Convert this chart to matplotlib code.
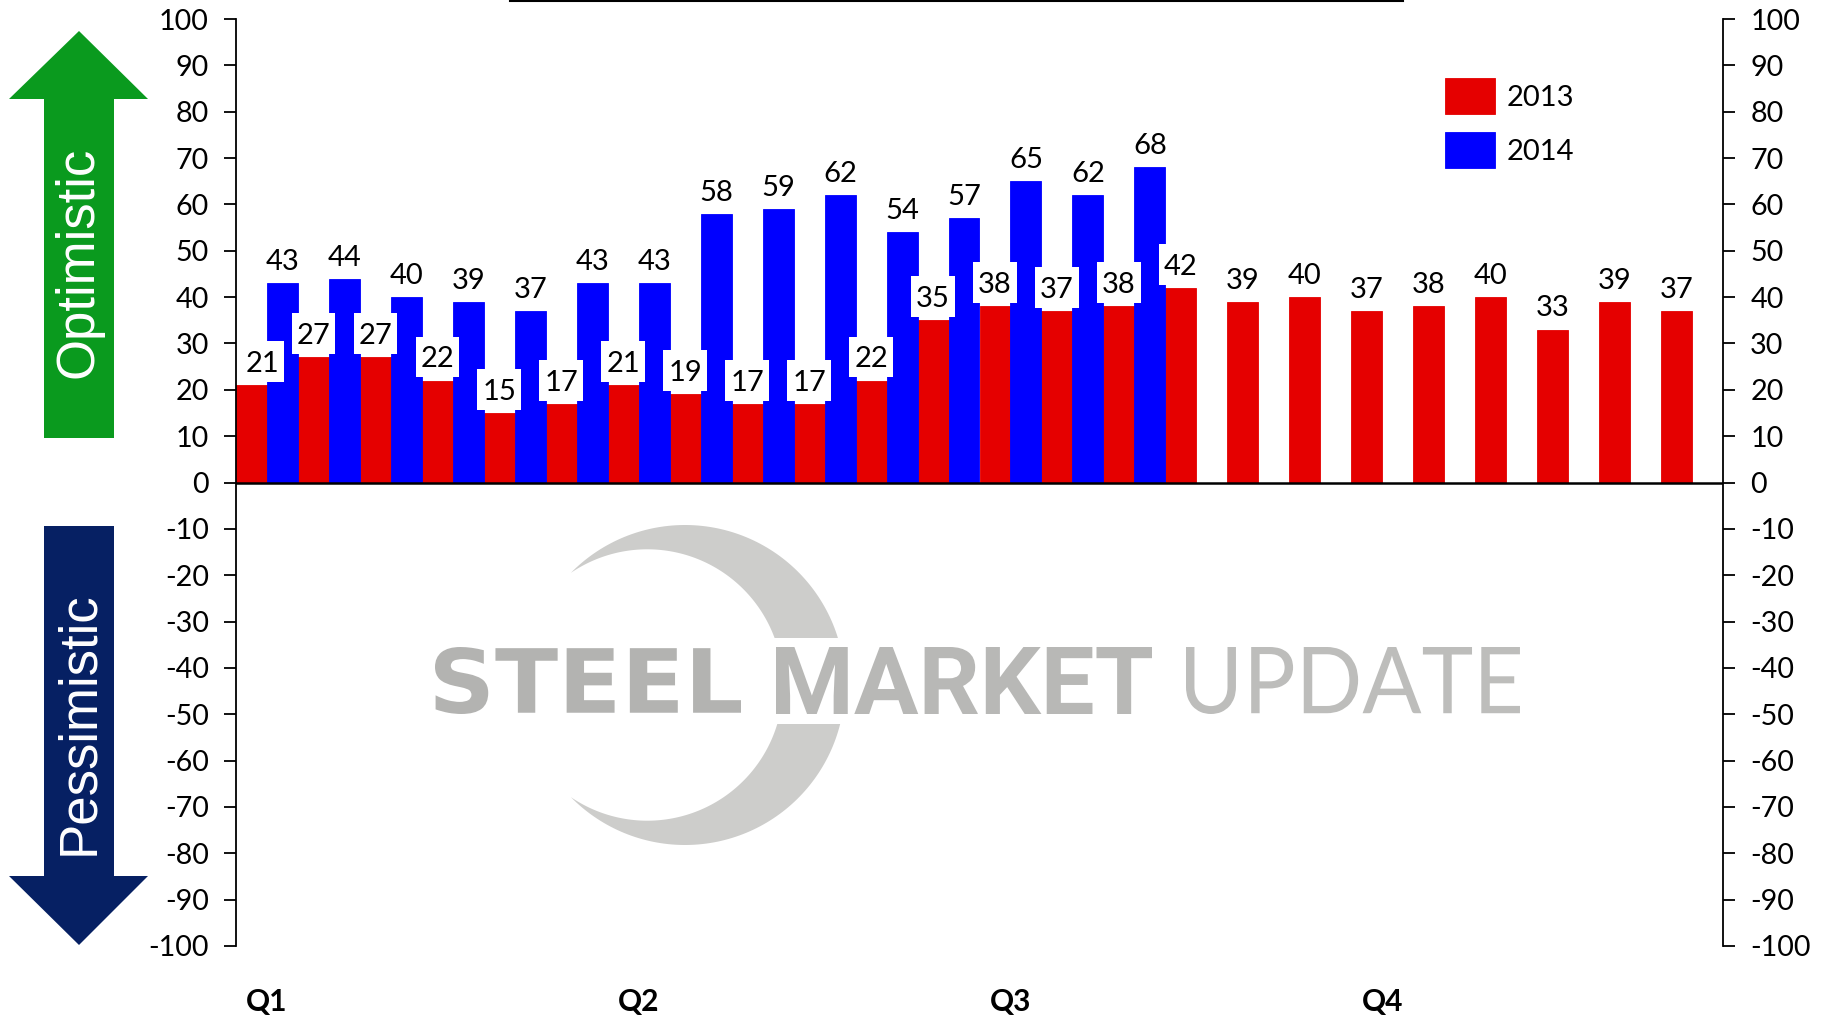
import numpy as np
import matplotlib
matplotlib.use("Agg")
import matplotlib.pyplot as plt
from matplotlib.patches import Polygon, PathPatch, Rectangle
from matplotlib.textpath import TextPath
from matplotlib.font_manager import FontProperties
from matplotlib.transforms import Affine2D
from matplotlib.lines import Line2D
from matplotlib.path import Path

# datos
valores_2013 = [21, 27, 27, 22, 15, 17, 21, 19, 17, 17, 22, 35,
                38, 37, 38, 42, 39, 40, 37, 38, 40, 33, 39, 37]
valores_2014 = [43, 44, 40, 39, 37, 43, 43, 58, 59, 62, 54, 57, 65, 62, 68]
series = ['2013', '2014']
trimestres = ['Q1', 'Q2', 'Q3', 'Q4']
ticks_y = list(range(-100, 101, 10))

ROJO = '#e50000'
AZUL = '#0000ff'
VERDE = '#0a9a1e'
MARINO = '#062063'
GRIS = '#cdcdcb'

plt.rcParams['font.family'] = ['Lato', 'DejaVu Sans']
plt.rcParams['axes.unicode_minus'] = False

W, H = 1829, 1017
fig = plt.figure(figsize=(W / 100, H / 100), dpi=100)
ax = fig.add_axes([236 / W, 1 - 946 / H, (1723 - 236) / W, (946 - 19) / H])

def px(x, y):  # pixeles (origen arriba-izq) -> fraccion de figura
    return (x / W, 1 - y / H)

grupos = np.arange(len(valores_2013))
n14 = len(valores_2014)
barras13 = ax.bar(grupos - 0.25, valores_2013, width=0.5, color=ROJO, ec=ROJO, lw=0.6,
                  label=series[0], zorder=1)
barras14 = ax.bar(grupos[:n14] + 0.25, valores_2014, width=0.5, color=AZUL, ec=AZUL, lw=0.6,
                  label=series[1], zorder=1)

ax.set_xlim(-0.5, len(grupos) - 0.5)
ax.set_ylim(-100, 100)
ax.axhline(0, color='black', lw=1.8, zorder=2)

# caja blanca de las etiquetas (mas alta que ancha, como en Excel)
def caja_etiqueta(x0, y0, width, height, mutation_size):
    ph = 0.17 * mutation_size
    pt = 0.34 * mutation_size
    pb = 0.17 * mutation_size
    xa, xb = x0 - ph, x0 + width + ph
    ya, yb = y0 - pb, y0 + height + pt
    return Path([(xa, ya), (xb, ya), (xb, yb), (xa, yb), (xa, ya)], closed=True)

def etiquetas(xs, vals):
    for x, v in zip(xs, vals):
        x = max(x, -0.5 + 0.42)
        ax.annotate(str(v), (x, v), xytext=(0, 5.8), textcoords='offset points',
                    ha='center', va='bottom', fontsize=21, zorder=4,
                    bbox=dict(boxstyle=caja_etiqueta, fc='white', ec='none'))

etiquetas(grupos - 0.25, valores_2013)
etiquetas(grupos[:n14] + 0.25, valores_2014)

# ejes
ax.set_yticks(ticks_y)
ax.set_yticklabels([str(t) for t in ticks_y])
ax.tick_params(axis='y', which='both', direction='out', length=8.6, width=1.3,
               labelsize=20.7, pad=11, left=True, right=True, labelleft=True, labelright=True)
ax.set_xticks(grupos[::6])
ax.set_xticklabels(trimestres, fontweight='bold')
ax.tick_params(axis='x', length=0, labelsize=21.5, pad=30)
for lado in ['top', 'bottom']:
    ax.spines[lado].set_visible(False)
for lado in ['left', 'right']:
    ax.spines[lado].set_linewidth(1.3)

ax.legend(loc='upper left', bbox_to_anchor=px(1445, 78), bbox_transform=fig.transFigure,
          frameon=False, fontsize=21, borderpad=0, borderaxespad=0,
          handlelength=1.7, handleheight=1.52, labelspacing=0.62, handletextpad=0.4)

# flechas laterales
verde = [px(79, 31), px(148, 99), px(114, 99), px(114, 438), px(44, 438), px(44, 99), px(9, 99)]
marino = [px(44, 526), px(114, 526), px(114, 876), px(148, 876), px(79, 945), px(9, 876), px(44, 876)]
fig.add_artist(Polygon(verde, closed=True, fc=VERDE, ec='none', transform=fig.transFigure))
fig.add_artist(Polygon(marino, closed=True, fc=MARINO, ec='none', transform=fig.transFigure))
fig.text(*px(79, 262), 'Optimistic', rotation=90, ha='center', va='center', color='white',
         fontsize=38, family='Liberation Sans')
fig.text(*px(79, 723), 'Pessimistic', rotation=90, ha='center', va='center', color='white',
         fontsize=38, family='Liberation Sans')

# linea superior
fig.add_artist(Line2D([510 / W, 1403 / W], [1 - 1.0 / H, 1 - 1.0 / H], color='black', lw=1.5,
                      transform=fig.transFigure))

# marca de agua
cx, cy, R = 685, 685, 160
d, r = 37.7, 135.7
xi = (r ** 2 - R ** 2 - d ** 2) / (2 * d)
yi = np.sqrt(R ** 2 - xi ** 2)
a_ext = np.arctan2(yi, xi)
a_int = np.arctan2(yi, xi + d)
t1 = np.linspace(-a_ext, a_ext, 200)
t2 = np.linspace(a_int, -a_int, 200)
xs = np.concatenate([cx + R * np.cos(t1), cx - d + r * np.cos(t2)])
ys = np.concatenate([cy - R * np.sin(t1), cy - r * np.sin(t2)])
fig.add_artist(Polygon([px(a, b) for a, b in zip(xs, ys)], closed=True, fc=GRIS, ec='none',
                       transform=fig.transFigure, zorder=5))
fig.add_artist(Rectangle(px(770, 724), 390 / W, 86 / H, fc='white', ec='none',
                         transform=fig.transFigure, zorder=5))

def texto_ajustado(s, caja, fp, color):
    tp = TextPath((0, 0), s, size=50, prop=fp)
    ext = tp.get_extents()
    x0, y0, x1, y1 = caja
    tr = (Affine2D().translate(-ext.x0, -ext.y0)
          .scale((x1 - x0) / ext.width, (y1 - y0) / ext.height)
          .translate(x0, H - y1).scale(1 / W, 1 / H))
    fig.add_artist(PathPatch(tp, fc=color, ec='none', transform=tr + fig.transFigure, zorder=6))

texto_ajustado('STEEL', (435, 647, 741, 714), FontProperties(family='DejaVu Sans', weight='bold'), '#b3b3b1')
texto_ajustado('MARKET', (776, 647, 1152, 714), FontProperties(family='Roboto', weight='bold'), '#b8b8b6')
texto_ajustado('UPDATE', (1186, 647, 1520, 714), FontProperties(family='Lato', weight='normal'), '#bdbdbb')

fig.savefig('out.png', dpi=100)
